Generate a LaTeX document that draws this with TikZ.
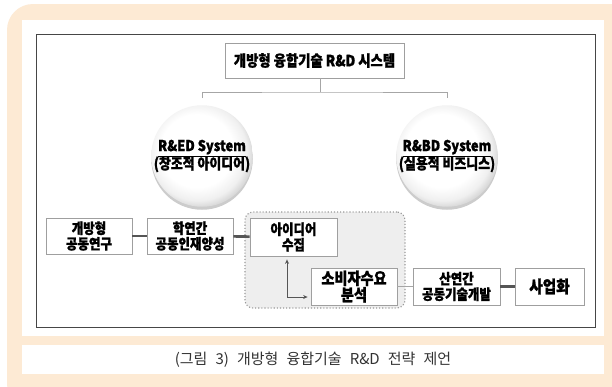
\documentclass[tikz,border=0pt]{standalone}
\usepackage{fontspec}
\setmainfont{Noto Sans CJK KR}
\newfontfamily\krb{Noto Sans CJK KR}[FakeStretch=0.86, BoldFeatures={FakeBold=1.2}]
\newfontfamily\krcap{Noto Sans CJK KR}[WordSpace=2.4]
\usetikzlibrary{shadows,arrows.meta,calc}
\definecolor{peach}{RGB}{253,234,212}
\definecolor{lineg}{RGB}{85,85,85}
\pgfdeclareradialshading{sphereshade}{\pgfpoint{-4bp}{4bp}}{color(0bp)=(white); color(18bp)=(white); color(24bp)=(gray!12); color(27bp)=(gray!30); color(50bp)=(gray!30)}
\tikzset{
  boxn/.style={draw=gray!75, fill=white, line width=0.8pt, align=center, inner sep=0pt,
    drop shadow={shadow xshift=1.3pt, shadow yshift=-1.3pt, fill=gray!50, opacity=1},
    font=\krb\bfseries\fontsize{14.5}{15.5}\selectfont, text=black},
  ball/.style={circle, minimum size=92pt, inner sep=0pt, shading=sphereshade, align=center,
    drop shadow={shadow xshift=0pt, shadow yshift=-3pt, fill=gray!40, opacity=1},
    font=\krb\bfseries\fontsize{15}{18}\selectfont},
  tree/.style={draw=gray!70, line width=0.8pt},
  thick link/.style={draw=lineg, line width=2.6pt},
  thin link/.style={draw=gray!70, line width=1.5pt},
  region/.style={draw=gray!80, dotted, line width=1.1pt, fill=gray!13, rounded corners=8pt, inner sep=0pt},
}
\begin{document}
\begin{tikzpicture}[x=1pt,y=-1pt]
\useasboundingbox (0,0) rectangle (612,386);
\clip (0,0) rectangle (612,386);
\fill[white] (0,0) rectangle (612,386);
\fill[peach, rounded corners=26pt] (7,4) rectangle (640,410);
\fill[white] (22,20) rectangle (604,336);
\fill[white] (22,345) rectangle (604,374);
\draw[line width=1pt, draw=gray!55!black] (36,34) rectangle (595,327);

% top
\node[boxn, minimum width=179pt, minimum height=35pt, font=\krb\bfseries\fontsize{15.5}{17}\selectfont] (top) at (314.5,60.5) {개방형 융합기술 R\&D 시스템};

\node[ball] (lc) at (202,156) {\underline{R\&ED System}\\(창조적 아이디어)};
\node[ball] (rc) at (447,156) {\underline{R\&BD System}\\(실용적 비즈니스)};

\coordinate (tj) at (320,92);
\draw[tree] (tj |- top.south) -- (tj);
\draw[tree] ($(lc.north)+(0,-7)$) |- (tj) -| ($(rc.north)+(0,-7)$);

% bottom
\node[region, minimum width=160pt, minimum height=96pt] (grp) at (325,260) {};
\node[boxn, minimum width=86pt, minimum height=36pt] (b1) at (89,236) {개방형\\공동연구};
\node[boxn, minimum width=86pt, minimum height=36pt] (b2) at (190,236) {학연간\\공동인재양성};
\node[boxn, minimum width=87pt, minimum height=38pt] (b3) at (293.5,237) {아이디어\\수집};
\node[boxn, minimum width=86pt, minimum height=37pt, font=\krb\bfseries\fontsize{16.5}{16.5}\selectfont] (b4) at (354,286.5) {소비자수요\\분석};
\node[boxn, minimum width=87pt, minimum height=37pt] (b5) at (456.5,286.5) {산연간\\공동기술개발};
\node[boxn, minimum width=69pt, minimum height=37pt, font=\krb\bfseries\fontsize{17}{18}\selectfont] (b6) at (549.5,286.5) {사업화};

\draw[thick link] (b1) -- (b2);
\draw[thick link] (b2) -- (b3);
\draw[thin link] (b4) -- (b5);
\draw[thick link] (b5) -- (b6);

\coordinate (ax) at (287,297);
\draw[draw=lineg, line width=1pt, {Stealth[length=4.5pt,width=4pt]}-{Stealth[length=4.5pt,width=4pt]}]
  ($(b3.south -| ax)+(0,3)$) |- ($(b4.west |- ax)+(-3,0)$);

\node[font=\krcap\fontsize{15}{16}\selectfont, text=black!80] (cap) at (313,359.5) {(그림 3) 개방형 융합기술 R\&D 전략 제언};
\end{tikzpicture}
\end{document}
